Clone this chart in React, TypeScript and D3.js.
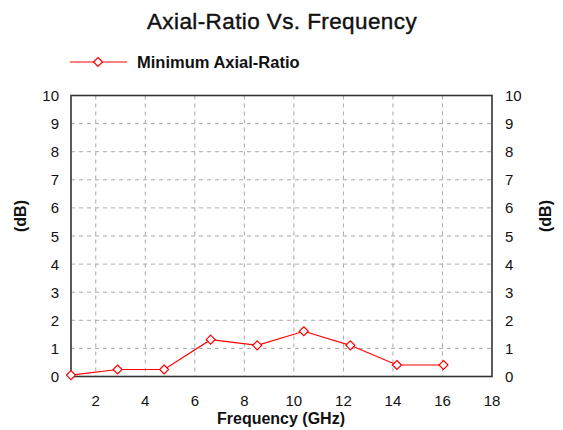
import React from "react";
import * as d3 from "d3";

// Frequency (GHz) and minimum axial ratio (dB)
const frequencies = [1, 2.88, 4.76, 6.64, 8.52, 10.4, 12.28, 14.16, 16.04];
const axialRatio = [0.05, 0.25, 0.25, 1.31, 1.11, 1.61, 1.11, 0.41, 0.41];
const xTicks = [2, 4, 6, 8, 10, 12, 14, 16, 18];
const yTicks = [0, 1, 2, 3, 4, 5, 6, 7, 8, 9, 10];

const W = 563;
const H = 430;
const plot = { left: 71, right: 492, top: 95.5, bottom: 376.5 };
const font = "'Liberation Sans', Arial, sans-serif";

// square diamond marker, half-width r
const markerPath = (r: number) => {
  const p = d3.path();
  p.moveTo(0, -r);
  p.lineTo(r, 0);
  p.lineTo(0, r);
  p.lineTo(-r, 0);
  p.closePath();
  return p.toString();
};

export default function App() {
  const x = d3.scaleLinear().domain([1, 18]).range([plot.left, plot.right]);
  const y = d3.scaleLinear().domain([0, 10]).range([plot.bottom, plot.top]);
  const line = d3
    .line<number>()
    .x((_, i) => x(frequencies[i]))
    .y((d) => y(d));
  const diamond = markerPath(4.5);

  return (
    <svg
      width={W}
      height={H}
      style={{ position: "absolute", left: 0, top: 0, background: "#fff" }}
      fontFamily={font}
    >
      <text
        x={282}
        y={29}
        textAnchor="middle"
        fontSize={22.5}
        letterSpacing={0.4}
        fill="#111"
        stroke="#111"
        strokeWidth={0.4}
      >
        Axial-Ratio Vs. Frequency
      </text>

      {/* legend */}
      <line x1={70} x2={127} y1={62} y2={62} stroke="#ff0000" strokeWidth={1.2} />
      <path d={diamond} transform="translate(98,62)" fill="#fff" stroke="#ff0000" strokeWidth={1.2} />
      <text x={137} y={68} fontSize={16.5} fontWeight="bold" fill="#111">
        Minimum Axial-Ratio
      </text>

      {/* grid */}
      {yTicks.slice(1, -1).map((t) => (
        <line key={"gy" + t} x1={plot.left} x2={plot.right} y1={y(t)} y2={y(t)} stroke="#a8a8a8" strokeDasharray="4,4" />
      ))}
      {xTicks.slice(0, -1).map((t) => (
        <line key={"gx" + t} x1={x(t)} x2={x(t)} y1={plot.top} y2={plot.bottom} stroke="#a8a8a8" strokeDasharray="4,4" />
      ))}

      {/* frame */}
      <rect
        x={plot.left}
        y={plot.top}
        width={plot.right - plot.left}
        height={plot.bottom - plot.top}
        fill="none"
        stroke="#333"
        strokeWidth={1.6}
      />

      {/* tick labels */}
      {yTicks.map((t) => (
        <g key={"ty" + t} fontSize={15} fill="#111">
          <text x={plot.left - 12} y={y(t) + 5.5} textAnchor="end">{t}</text>
          <text x={plot.right + 13} y={y(t) + 5.5} textAnchor="start">{t}</text>
        </g>
      ))}
      {xTicks.map((t) => (
        <text key={"tx" + t} x={x(t)} y={plot.bottom + 29} textAnchor="middle" fontSize={15} fill="#111">
          {t}
        </text>
      ))}

      {/* axis titles */}
      <text x={281} y={424} textAnchor="middle" fontSize={16} fontWeight="bold" fill="#111">
        Frequency (GHz)
      </text>
      <text transform="translate(26,216) rotate(-90)" textAnchor="middle" fontSize={16} fontWeight="bold" fill="#111">
        (dB)
      </text>
      <text transform="translate(551,216) rotate(-90)" textAnchor="middle" fontSize={16} fontWeight="bold" fill="#111">
        (dB)
      </text>

      {/* series */}
      <path d={line(axialRatio) || ""} fill="none" stroke="#ff0000" strokeWidth={1.2} />
      {axialRatio.map((v, i) => (
        <path
          key={"m" + i}
          d={diamond}
          transform={`translate(${x(frequencies[i])},${y(v)})`}
          fill="#fff"
          stroke="#ff0000"
          strokeWidth={1.2}
        />
      ))}
    </svg>
  );
}
